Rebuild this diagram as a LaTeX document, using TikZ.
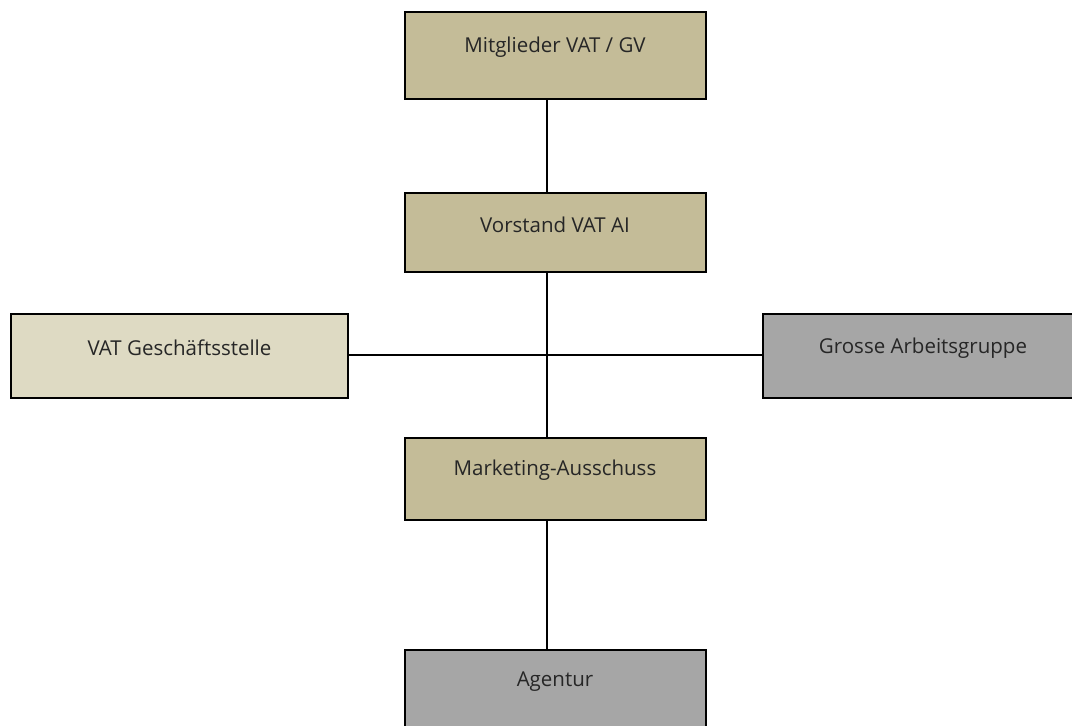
\documentclass[tikz,border=0pt]{standalone}
\usepackage{fontspec}
\setmainfont{Open Sans}
\definecolor{tan}{HTML}{C4BC98}
\definecolor{lighttan}{HTML}{DEDAC3}
\definecolor{boxgray}{HTML}{A6A6A6}
\definecolor{txt}{HTML}{262626}
\begin{document}
\begin{tikzpicture}[x=1pt,y=-1pt,
  orgbox/.style={draw=black, line width=1.6pt, rectangle, inner sep=0pt, outer sep=0pt},
  lbl/.style={text=txt, font=\fontsize{20.5}{24}\selectfont},
  conn/.style={line width=1.6pt}]
\useasboundingbox (0,0) rectangle (1072,726);
% boxes
\node[orgbox, fill=tan, minimum width=301pt, minimum height=87pt] (mg) at (555.5,55.5) {};
\node[lbl] (t1) at (555,47) {Mitglieder VAT / GV};
\node[orgbox, fill=tan, minimum width=301pt, minimum height=79pt] (vs) at (555.5,232.5) {};
\node[lbl] (t2) at (555,225) {Vorstand VAT AI};
\node[orgbox, fill=lighttan, minimum width=337pt, minimum height=84pt] (gs) at (179.5,356) {};
\node[lbl] (t3) at (179.5,348) {VAT Geschäftsstelle};
\node[orgbox, fill=boxgray, minimum width=317pt, minimum height=84pt] (ag) at (921.5,356) {};
\node[lbl] (t4) at (923,348) {Grosse Arbeitsgruppe};
\node[orgbox, fill=tan, minimum width=301pt, minimum height=82pt] (ma) at (555.5,479) {};
\node[lbl] (t5) at (555,470) {Marketing-Ausschuss};
\node[orgbox, fill=boxgray, minimum width=301pt, minimum height=90pt] (ac) at (555.5,695) {};
\node[lbl] (t6) at (555,682) {Agentur};
% connectors
\coordinate (cx) at (547,355);
\draw[conn] (mg.south -| cx) -- (vs.north -| cx);
\draw[conn] (vs.south -| cx) -- (ma.north -| cx);
\draw[conn] (ma.south -| cx) -- (ac.north -| cx);
\draw[conn] (gs.east |- cx) -- (ag.west |- cx);
\end{tikzpicture}
\end{document}
